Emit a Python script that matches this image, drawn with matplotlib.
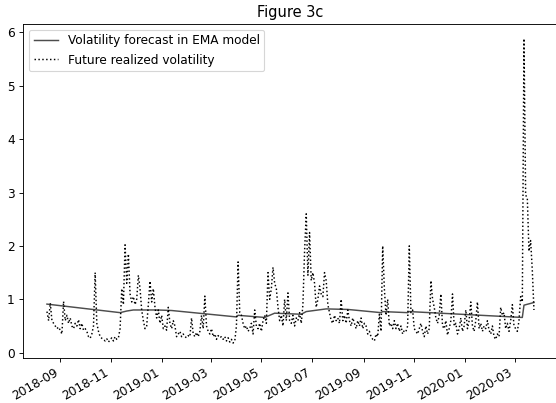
import matplotlib
matplotlib.use("Agg")
import matplotlib.pyplot as plt
import matplotlib.dates as mdates
import pandas as pd
import numpy as np

# Future realized volatility, every second day starting 2018-08-16
start_date = "2018-08-16"
realized_vol = [
    0.77, 0.60, 0.93, 0.60, 0.55, 0.50, 0.45, 0.48, 0.42, 0.35, 0.96, 0.60, 0.70, 0.55, 0.65, 0.50,
    0.45, 0.55, 0.50, 0.62, 0.45, 0.55, 0.42, 0.45, 0.40, 0.30, 0.27, 0.35, 0.50, 1.50, 0.55, 0.40,
    0.30, 0.27, 0.25, 0.22, 0.26, 0.20, 0.24, 0.28, 0.22, 0.30, 0.25, 0.28, 0.45, 1.20, 0.90, 2.02,
    1.30, 1.85, 1.10, 0.95, 1.05, 0.90, 1.00, 1.45, 1.20, 0.80, 0.60, 0.45, 0.50, 0.90, 1.34, 0.95,
    1.20, 0.85, 0.65, 0.80, 0.55, 0.70, 0.45, 0.50, 0.42, 0.85, 0.55, 0.45, 0.60, 0.50, 0.30, 0.35,
    0.40, 0.30, 0.35, 0.30, 0.28, 0.32, 0.30, 0.65, 0.35, 0.30, 0.38, 0.30, 0.40, 0.70, 0.45, 1.06,
    0.50, 0.40, 0.35, 0.45, 0.30, 0.35, 0.25, 0.32, 0.28, 0.30, 0.25, 0.30, 0.22, 0.28, 0.20, 0.25,
    0.18, 0.22, 0.50, 1.70, 0.75, 0.70, 0.55, 0.45, 0.50, 0.40, 0.45, 0.55, 0.35, 0.80, 0.50, 0.45,
    0.55, 0.40, 0.60, 0.70, 0.55, 1.50, 1.00, 1.20, 1.60, 1.30, 1.20, 0.85, 0.60, 0.70, 0.50, 1.00,
    0.60, 1.12, 0.60, 0.55, 0.70, 0.50, 0.65, 0.60, 0.75, 0.55, 0.90, 1.90, 2.60, 1.45, 2.25, 1.35,
    1.50, 1.30, 0.85, 1.00, 1.25, 1.10, 1.05, 1.50, 1.35, 0.90, 0.75, 0.60, 0.55, 0.70, 0.60, 0.65,
    0.55, 1.00, 0.60, 0.70, 0.55, 0.80, 0.60, 0.50, 0.65, 0.55, 0.45, 0.60, 0.50, 0.65, 0.45, 0.55,
    0.50, 0.35, 0.40, 0.30, 0.25, 0.22, 0.35, 0.30, 0.72, 0.40, 2.00, 1.20, 0.70, 1.00, 0.50, 0.55,
    0.45, 0.60, 0.45, 0.55, 0.40, 0.50, 0.35, 0.42, 0.40, 0.50, 2.00, 0.75, 0.80, 0.45, 0.40, 0.35,
    0.45, 0.55, 0.40, 0.30, 0.50, 0.35, 0.45, 1.35, 1.00, 0.85, 0.65, 0.55, 0.70, 1.10, 0.50, 0.45,
    0.60, 0.33, 0.45, 0.60, 1.10, 0.50, 0.55, 0.35, 0.45, 0.65, 0.40, 0.50, 0.80, 0.45, 0.60, 0.95,
    0.50, 0.40, 0.60, 0.95, 0.45, 0.55, 0.40, 0.50, 0.45, 0.60, 0.42, 0.35, 0.50, 0.30, 0.25, 0.35,
    0.30, 0.85, 0.70, 0.75, 0.45, 0.55, 0.40, 0.60, 0.90, 0.50, 0.45, 0.40, 0.60, 1.05, 0.95, 5.88,
    2.95, 2.90, 1.90, 2.10, 1.55, 0.80,
]

# EMA volatility forecast (breakpoints of the smooth line)
ema_dates = [
    "2018-08-16", "2018-11-12", "2018-11-20", "2018-11-28", "2018-12-27", "2019-01-13",
    "2019-04-01", "2019-04-03", "2019-05-05", "2019-05-11", "2019-05-17", "2019-06-02",
    "2019-06-18", "2019-06-24", "2019-07-18", "2019-08-13", "2019-09-22", "2019-09-24",
    "2019-10-24", "2019-10-26", "2020-03-10", "2020-03-12", "2020-03-24",
]
ema_values = [
    0.91, 0.75, 0.78, 0.80, 0.80, 0.79,
    0.67, 0.70, 0.66, 0.70, 0.74, 0.73,
    0.72, 0.77, 0.82, 0.81, 0.75, 0.77,
    0.75, 0.77, 0.66, 0.89, 0.94,
]

title = "Figure 3c"
label_ema = "Volatility forecast in EMA model"
label_real = "Future realized volatility"

plt.rcParams["font.size"] = 10.8

rv_dates = pd.date_range(start_date, periods=len(realized_vol), freq="2D")
ema_x = pd.to_datetime(ema_dates)

DPI = 81
fig = plt.figure(figsize=(556 / DPI, 403 / DPI), dpi=DPI)
ax = fig.add_axes([22.6 / 556, 1 - 358.3 / 403, (558.3 - 22.6) / 556, (358.3 - 23.5) / 403])

ax.plot(ema_x, ema_values, color="#4d4d4d", lw=1.3, label=label_ema)
ax.plot(rv_dates, realized_vol, color="black", ls=":", lw=1.3, label=label_real)

ax.xaxis.set_major_locator(mdates.MonthLocator(bymonth=[1, 3, 5, 7, 9, 11]))
ax.xaxis.set_major_formatter(mdates.DateFormatter("%Y-%m"))
for lbl in ax.get_xticklabels():
    lbl.set_rotation(30)
    lbl.set_ha("right")

ax.set_yticks([0, 1, 2, 3, 4, 5, 6])
ax.set_title(title)
ax.legend(loc="upper left")

fig.savefig("out.png", dpi=DPI)
